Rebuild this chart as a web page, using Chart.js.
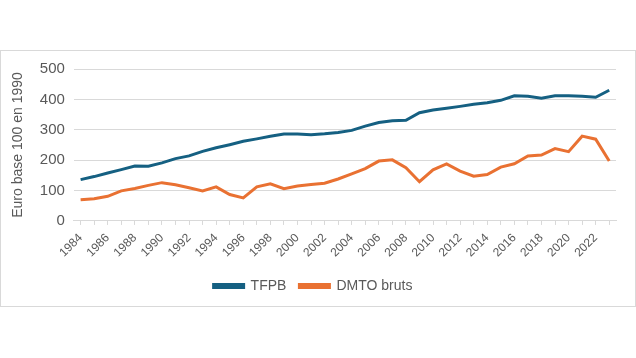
<!DOCTYPE html>
<html>
<head>
<meta charset="utf-8">
<script src="https://cdn.jsdelivr.net/npm/chart.js@4"></script>
<style>
  html, body { margin: 0; padding: 0; background: #fff; }
  #frame {
    position: absolute; left: 0; top: 50px;
    width: 634px; height: 255px;
    border: 1px solid #d9d9d9;
  }
  #wrap {
    position: absolute; left: 1px; top: 51px;
    width: 634px; height: 256px;
  }
</style>
</head>
<body>
<div id="frame"></div>
<div id="wrap"><canvas id="chart"></canvas></div>
<script>
// Years and series (euro, base 100 en 1990)
const years = [];
for (let y = 1984; y <= 2023; y++) years.push(String(y));

const tfpb = [136, 146, 158, 169, 181, 180, 191, 205, 214, 229,
              241, 251, 262, 270, 279, 286, 286, 284, 287, 291,
              298, 312, 324, 330, 331, 356, 365, 371, 377, 384,
              389, 397, 412, 410, 404, 412, 412, 410, 407, 430];

const dmto = [70, 73, 81, 99, 107, 117, 126, 119, 109, 99,
              112, 87, 76, 112, 122, 106, 115, 120, 124, 138,
              155, 172, 197, 201, 175, 129, 168, 188, 164, 147,
              153, 177, 188, 214, 217, 238, 228, 279, 269, 197];

const yTicks = [0, 100, 200, 300, 400, 500];

const FONT = 'Liberation Sans, Arial, sans-serif';
const TEXT = '#595959';

const ctx = document.getElementById('chart').getContext('2d');
new Chart(ctx, {
  type: 'line',
  data: {
    labels: years,
    datasets: [
      {
        label: 'TFPB',
        data: tfpb,
        borderColor: '#156082',
        backgroundColor: '#156082',
        borderWidth: 3,
        pointRadius: 0,
        tension: 0,
      },
      {
        label: 'DMTO bruts',
        data: dmto,
        borderColor: '#E97132',
        backgroundColor: '#E97132',
        borderWidth: 3,
        pointRadius: 0,
        tension: 0,
      }
    ]
  },
  options: {
    responsive: true,
    maintainAspectRatio: false,
    animation: false,
    layout: { padding: { left: 9, right: 19, top: 3, bottom: 4 } },
    plugins: {
      legend: {
        position: 'bottom',
        labels: {
          boxWidth: 30,
          boxHeight: 3,
          padding: 13,
          color: TEXT,
          font: { size: 14, family: FONT },
        }
      },
      tooltip: { enabled: false }
    },
    scales: {
      x: {
        offset: true,
        grid: {
          drawOnChartArea: false,
          drawTicks: true,
          tickLength: 4,
          color: '#d9d9d9',
          offset: false,
        },
        border: { color: '#d9d9d9' },
        ticks: {
          autoSkip: false,
          maxRotation: 45,
          minRotation: 45,
          padding: 6,
          color: TEXT,
          font: { size: 12, family: FONT },
          callback: function(value, index) {
            return index % 2 === 0 ? years[index] : '';
          }
        }
      },
      y: {
        min: 0,
        max: 500,
        afterBuildTicks: function(axis) {
          axis.ticks = yTicks.map(v => ({ value: v }));
        },
        grid: { color: '#d9d9d9', drawTicks: false },
        border: { display: false },
        ticks: {
          padding: 9,
          color: TEXT,
          font: { size: 15, family: FONT },
        },
        title: {
          display: true,
          text: 'Euro base 100 en 1990',
          color: TEXT,
          font: { size: 14, family: FONT },
          padding: { top: 0, bottom: 4 }
        }
      }
    }
  }
});
</script>
</body>
</html>
